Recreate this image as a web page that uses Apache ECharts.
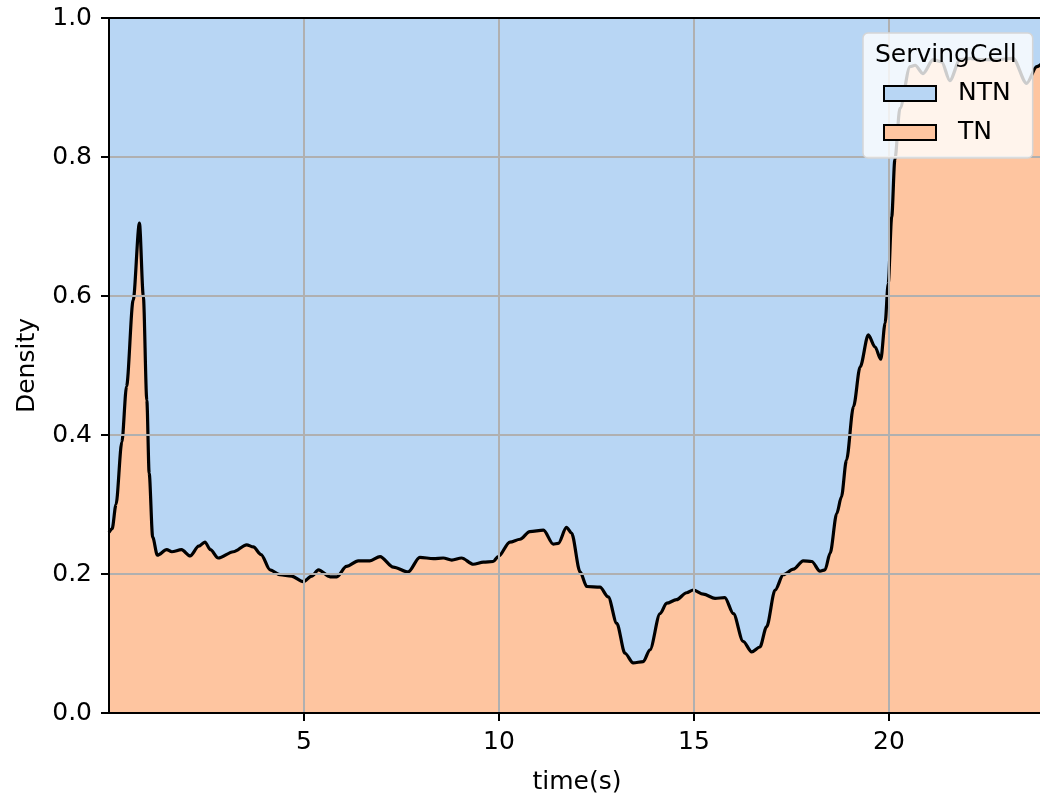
<!DOCTYPE html>
<html>
<head>
<meta charset="utf-8">
<script src="https://cdn.jsdelivr.net/npm/echarts@6/dist/echarts.min.js"></script>
<style>
  html, body { margin: 0; padding: 0; background: #fff; }
  #chart { width: 1040px; height: 796px; }
</style>
</head>
<body>
<div id="chart"></div>
<script>
const timeS = [
  0, 0.08, 0.18, 0.33, 0.45, 0.62, 0.78, 0.88, 0.97, 1.03,
  1.12, 1.24, 1.48, 1.61, 1.86, 2.08, 2.3, 2.46, 2.6, 2.8,
  3.19, 3.53, 3.7, 3.9, 4.13, 4.38, 4.68, 4.98, 5.2, 5.37,
  5.67, 5.84, 6.09, 6.39, 6.69, 6.95, 7.29, 7.67, 7.97, 8.32,
  8.57, 8.79, 9.04, 9.34, 9.6, 9.85, 9.98, 10.28, 10.54, 10.79,
  11.14, 11.39, 11.52, 11.73, 11.86, 12.08, 12.25, 12.59, 12.8, 13.02,
  13.23, 13.44, 13.7, 13.87, 14.13, 14.3, 14.55, 14.81, 14.98, 15.24,
  15.54, 15.79, 16.01, 16.26, 16.48, 16.69, 16.86, 17.08, 17.29, 17.55,
  17.8, 18.02, 18.23, 18.36, 18.49, 18.66, 18.78, 18.91, 19.09, 19.26,
  19.47, 19.64, 19.79, 19.9, 19.98, 20.07, 20.15, 20.28, 20.54, 20.67,
  20.87, 21.13, 21.35, 21.56, 21.82, 22.08, 22.33, 22.76, 23.18, 23.53,
  23.79, 24
]

// share of TN (bottom layer)
const tnShare = [
  0.26, 0.265, 0.30, 0.39, 0.47, 0.594, 0.705, 0.60, 0.45, 0.345,
  0.253, 0.227, 0.235, 0.232, 0.235, 0.226, 0.24, 0.246, 0.235, 0.223,
  0.232, 0.242, 0.239, 0.228, 0.206, 0.199, 0.197, 0.189, 0.197, 0.206,
  0.196, 0.196, 0.211, 0.219, 0.219, 0.225, 0.21, 0.203, 0.224, 0.222,
  0.223, 0.22, 0.223, 0.214, 0.217, 0.218, 0.225, 0.246, 0.25, 0.261,
  0.263, 0.243, 0.244, 0.267, 0.259, 0.203, 0.182, 0.181, 0.167, 0.129,
  0.086, 0.072, 0.074, 0.091, 0.143, 0.158, 0.163, 0.173, 0.177, 0.171,
  0.165, 0.166, 0.143, 0.103, 0.088, 0.095, 0.124, 0.177, 0.199, 0.207,
  0.219, 0.218, 0.204, 0.206, 0.23, 0.287, 0.311, 0.364, 0.441, 0.498,
  0.544, 0.527, 0.509, 0.561, 0.618, 0.714, 0.796, 0.87, 0.93, 0.932,
  0.92, 0.94, 0.937, 0.91, 0.94, 0.942, 0.94, 0.94, 0.942, 0.906,
  0.93, 0.94
]

// NTN takes the rest of the normalised density
const ntnShare = tnShare.map(v => 1 - v)

const cellNames = ['NTN', 'TN']
const xTicks = [5, 10, 15, 20]
const yTicks = [0, 0.2, 0.4, 0.6, 0.8, 1.0]

const FONT = 'DejaVu Sans'
const FS = 25
const BLUE = '#b8d6f4'
const ORANGE = '#fec5a0'

const chart = echarts.init(document.getElementById('chart'))

// NTN sits on top of TN, so its upper edge is the running total
const tnData = timeS.map((t, i) => [t, tnShare[i]])
const ntnTop = timeS.map((t, i) => [t, tnShare[i] + ntnShare[i]])

const option = {
  animation: false,
  backgroundColor: '#ffffff',
  grid: {
    left: 109,
    top: 18,
    width: 936,
    bottom: 83,
    outerBoundsMode: 'none'
  },
  title: {
    text: 'ServingCell',
    left: 870,
    top: 38,
    z: 10,
    textStyle: {
      fontFamily: FONT,
      fontSize: FS,
      fontWeight: 'normal',
      color: '#000'
    }
  },
  legend: {
    data: cellNames,
    orient: 'vertical',
    left: 863,
    top: 33,
    padding: [48, 22, 13, 20],
    itemWidth: 52,
    itemHeight: 15,
    itemGap: 14,
    icon: 'rect',
    z: 8,
    itemStyle: {
      borderColor: '#000',
      borderWidth: 2
    },
    textStyle: {
      fontFamily: FONT,
      fontSize: FS,
      color: '#000',
      padding: [0, 0, 0, 17]
    },
    backgroundColor: 'rgba(255,255,255,0.8)',
    borderColor: '#d6d6d6',
    borderWidth: 1.5,
    borderRadius: 5
  },
  xAxis: [
    {
      type: 'value',
      min: 0,
      max: 24,
      interval: 5,
      z: 3,
      name: 'time(s)',
      nameLocation: 'middle',
      nameGap: 57,
      nameTextStyle: { fontFamily: FONT, fontSize: FS, color: '#000' },
      axisLine: { lineStyle: { color: '#000', width: 2 } },
      axisTick: { length: 8, lineStyle: { color: '#000', width: 2 } },
      axisLabel: {
        fontFamily: FONT,
        fontSize: FS,
        color: '#000',
        margin: 17,
        showMinLabel: false,
        showMaxLabel: false,
        formatter: v => (xTicks.includes(v) ? String(v) : '')
      },
      splitLine: { show: true, lineStyle: { color: '#b0b0b0', width: 2 } }
    },
    {
      type: 'value',
      position: 'top',
      min: 0,
      max: 24,
      z: 3,
      axisLine: { lineStyle: { color: '#000', width: 2 } },
      axisTick: { show: false },
      axisLabel: { show: false },
      splitLine: { show: false }
    }
  ],
  yAxis: {
    type: 'value',
    min: 0,
    max: 1,
    interval: 0.2,
    z: 3,
    name: 'Density',
    nameLocation: 'middle',
    nameRotate: 90,
    nameGap: 69,
    nameTextStyle: { fontFamily: FONT, fontSize: FS, color: '#000' },
    axisLine: { show: true, lineStyle: { color: '#000', width: 2 } },
    axisTick: { show: true, length: 8, lineStyle: { color: '#000', width: 2 } },
    axisLabel: {
      fontFamily: FONT,
      fontSize: FS,
      color: '#000',
      margin: 17,
      formatter: v => {
        const hit = yTicks.find(t => Math.abs(t - v) < 1e-6)
        return hit === undefined ? '' : hit.toFixed(1)
      }
    },
    splitLine: { show: true, lineStyle: { color: '#b0b0b0', width: 2 } }
  },
  series: [
    {
      name: 'TN',
      type: 'line',
      z: 2,
      data: tnData,
      symbol: 'none',
      smooth: 0.3,
      smoothMonotone: 'x',
      itemStyle: { color: ORANGE },
      lineStyle: { color: '#000', width: 3.2 },
      areaStyle: { color: ORANGE, opacity: 1, origin: 'start' }
    },
    {
      name: 'NTN',
      type: 'line',
      z: 1,
      data: ntnTop,
      symbol: 'none',
      itemStyle: { color: BLUE },
      lineStyle: { width: 0 },
      areaStyle: { color: BLUE, opacity: 1, origin: 'start' }
    }
  ]
}

chart.setOption(option)
</script>
</body>
</html>
